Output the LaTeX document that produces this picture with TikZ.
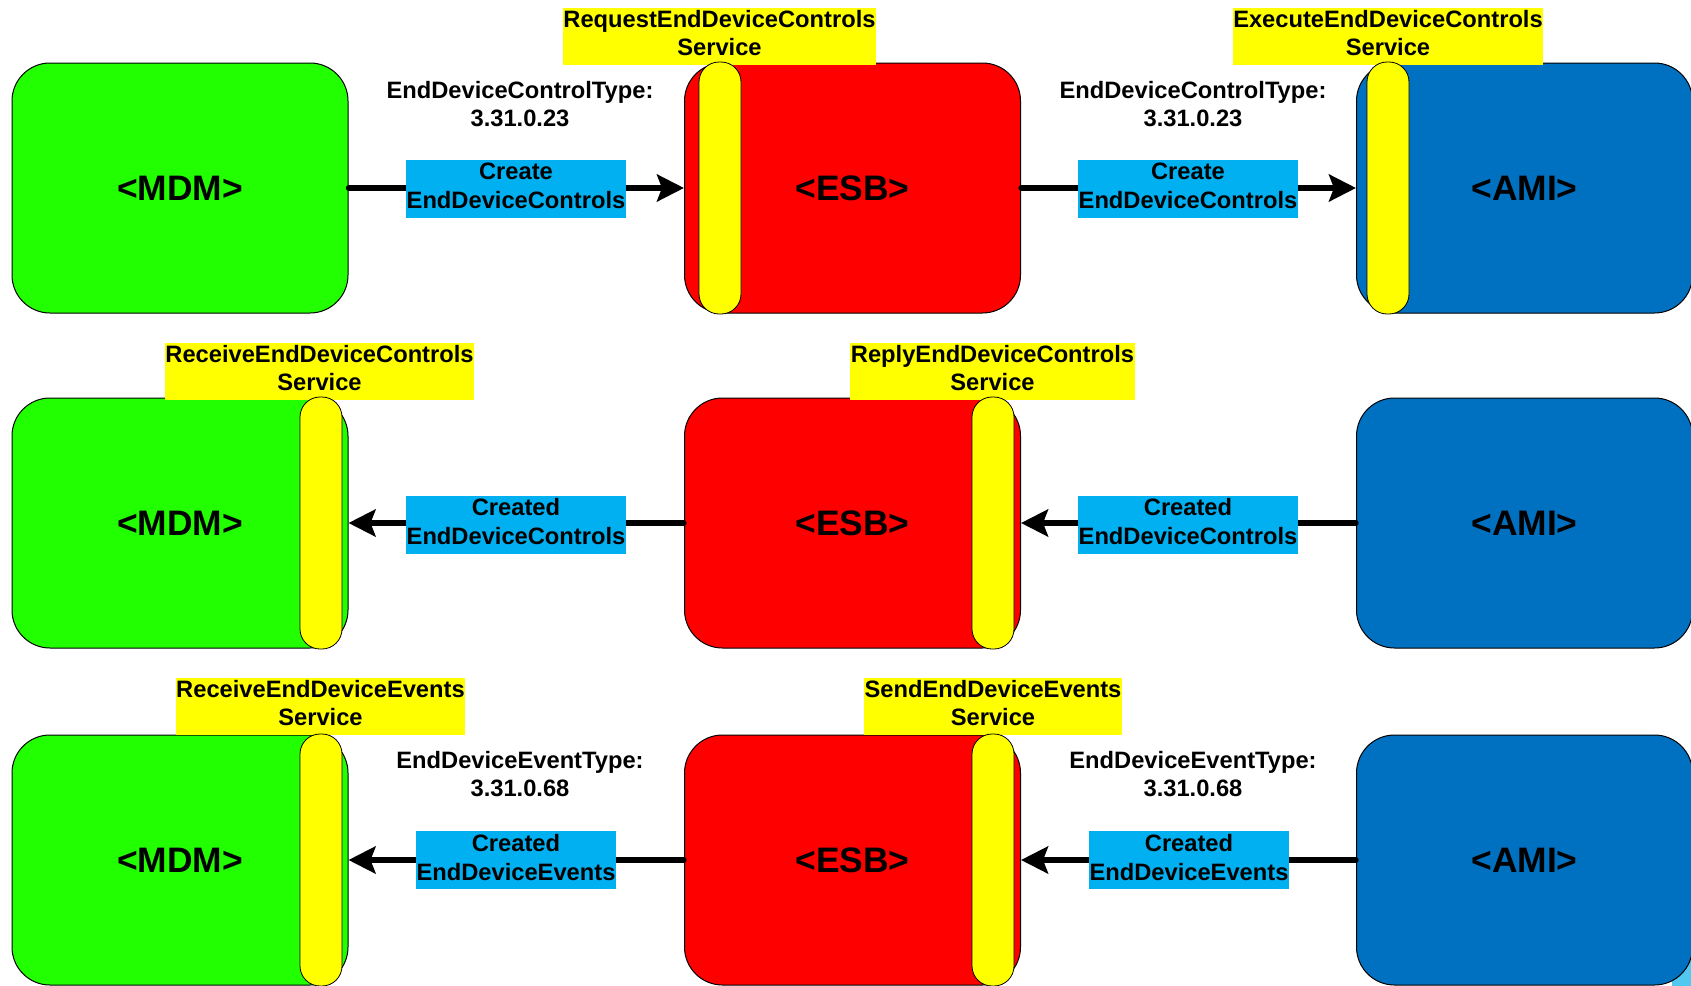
\documentclass[tikz,border=0pt]{standalone}
\usepackage{fontspec}
\setmainfont{Liberation Sans}
\usetikzlibrary{arrows.meta}

\definecolor{mdmgreen}{RGB}{34,255,0}
\definecolor{esbred}{RGB}{255,0,0}
\definecolor{amiblue}{RGB}{0,112,192}
\definecolor{svcyellow}{RGB}{255,255,0}
\definecolor{msgblue}{RGB}{0,176,240}
\definecolor{edgecyan}{RGB}{80,200,240}

\tikzset{
  sysbox/.style={draw=black, line width=1pt, rounded corners=38pt,
    minimum width=336pt, minimum height=250pt, inner sep=0pt,
    font=\fontsize{35.4}{40}\selectfont\bfseries},
  capsule/.style={draw=black, line width=0.8pt, fill=svcyellow,
    rounded corners=20pt, minimum width=42pt, minimum height=252pt, inner sep=0pt},
  svclabel/.style={fill=svcyellow, inner xsep=0.5pt, inner ysep=0pt, align=center,
    font=\fontsize{23.7}{28.5}\selectfont\bfseries},
  msglabel/.style={fill=msgblue, inner xsep=0.5pt, inner ysep=0pt, align=center,
    font=\fontsize{23.7}{29}\selectfont\bfseries},
  typenote/.style={inner sep=0pt, align=center,
    font=\fontsize{23.7}{28}\selectfont\bfseries},
  flow/.style={line width=5.3pt, line cap=round,
    -{Stealth[length=27pt,width=27pt,inset=5pt]}},
}

\begin{document}
\begin{tikzpicture}[x=1pt,y=-1pt]
\useasboundingbox (0,0) rectangle (1691,985);
\clip (0,0) rectangle (1691,985);

% partly hidden shape in the lower right corner
\fill[edgecyan] (1672,950) rectangle (1695,990);

% systems, three rows
\node[sysbox, fill=mdmgreen] (mdm1) at (180,188)    {<MDM>};
\node[sysbox, fill=esbred]   (esb1) at (852.5,188)  {<ESB>};
\node[sysbox, fill=amiblue]  (ami1) at (1524.5,188) {<AMI>};

\node[sysbox, fill=mdmgreen] (mdm2) at (180,523)    {<MDM>};
\node[sysbox, fill=esbred]   (esb2) at (852.5,523)  {<ESB>};
\node[sysbox, fill=amiblue]  (ami2) at (1524.5,523) {<AMI>};

\node[sysbox, fill=mdmgreen] (mdm3) at (180,860)    {<MDM>};
\node[sysbox, fill=esbred]   (esb3) at (852.5,860)  {<ESB>};
\node[sysbox, fill=amiblue]  (ami3) at (1524.5,860) {<AMI>};

% message flows
\draw[flow] (mdm1.east) -- (esb1.west);
\draw[flow] (esb1.east) -- (ami1.west);
\draw[flow] (esb2.west) -- (mdm2.east);
\draw[flow] (ami2.west) -- (esb2.east);
\draw[flow] (esb3.west) -- (mdm3.east);
\draw[flow] (ami3.west) -- (esb3.east);

% message names
\node[msglabel] (m1a) at (516,188.5)  {\strut Create\\\strut EndDeviceControls};
\node[msglabel] (m1b) at (1188,188.5) {\strut Create\\\strut EndDeviceControls};
\node[msglabel] (m2a) at (516,524.5)  {\strut Created\\\strut EndDeviceControls};
\node[msglabel] (m2b) at (1188,524.5) {\strut Created\\\strut EndDeviceControls};
\node[msglabel] (m3a) at (516,860)    {\strut Created\\\strut EndDeviceEvents};
\node[msglabel] (m3b) at (1189,860)   {\strut Created\\\strut EndDeviceEvents};

% service names
\node[svclabel] (s1a) at (719.5,36) {\strut RequestEndDeviceControls\\\strut Service};
\node[svclabel] (s1b) at (1388,36)  {\strut ExecuteEndDeviceControls\\\strut Service};
\node[svclabel] (s2a) at (319.5,371) {\strut ReceiveEndDeviceControls\\\strut Service};
\node[svclabel] (s2b) at (992.5,371) {\strut ReplyEndDeviceControls\\\strut Service};
\node[svclabel] (s3a) at (320.5,706) {\strut ReceiveEndDeviceEvents\\\strut Service};
\node[svclabel] (s3b) at (993,706)   {\strut SendEndDeviceEvents\\\strut Service};

% service interfaces
\node[capsule] (c1a) at (720,188)  {};
\node[capsule] (c1b) at (1388,188) {};
\node[capsule] (c2a) at (321,523)  {};
\node[capsule] (c2b) at (993,523)  {};
\node[capsule] (c3a) at (321,860)  {};
\node[capsule] (c3b) at (993,860)  {};

% payload types
\node[typenote] (t1a) at (520,106.4)  {\strut EndDeviceControlType:\\\strut 3.31.0.23};
\node[typenote] (t1b) at (1193,106.4) {\strut EndDeviceControlType:\\\strut 3.31.0.23};
\node[typenote] (t3a) at (520,777)    {\strut EndDeviceEventType:\\\strut 3.31.0.68};
\node[typenote] (t3b) at (1193,777)   {\strut EndDeviceEventType:\\\strut 3.31.0.68};
\end{tikzpicture}
\end{document}
